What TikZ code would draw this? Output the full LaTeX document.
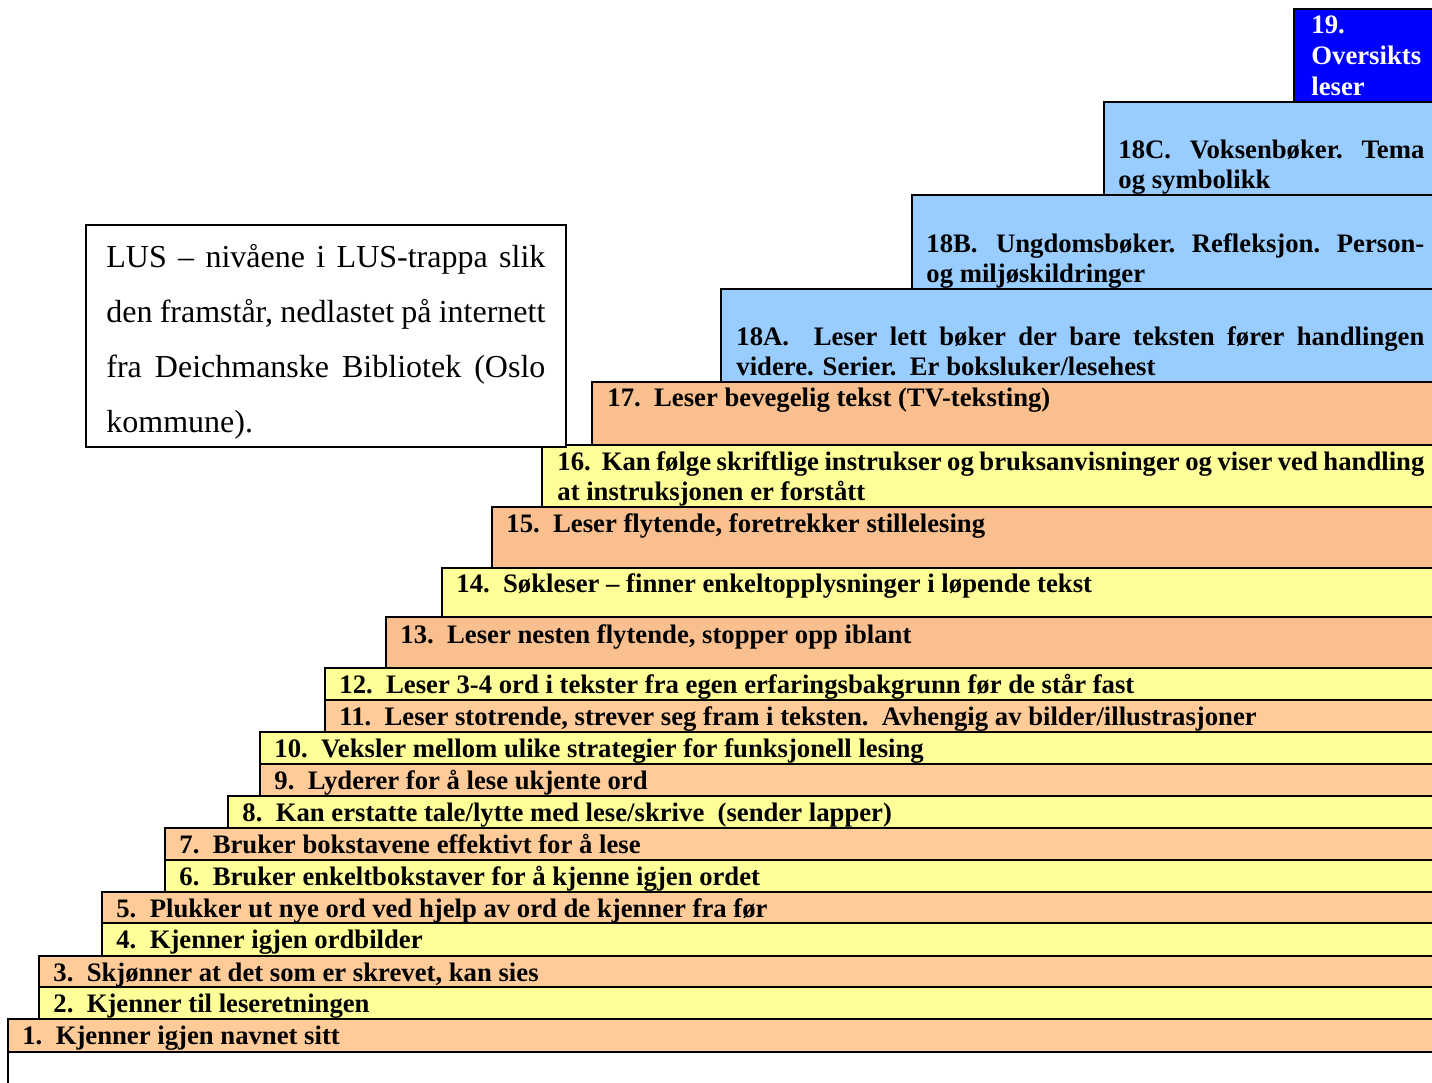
\documentclass[tikz,border=0pt]{standalone}
\usepackage{fontspec}
\setmainfont{Liberation Serif}
\definecolor{peach}{HTML}{FFCC99}
\definecolor{peachdark}{HTML}{F9BF8F}
\definecolor{lightyellow}{HTML}{FFFF99}
\definecolor{skyblue}{HTML}{99CCFF}
\definecolor{deepblue}{HTML}{0000FF}
\tikzset{
  stepbox/.style={draw=black, line width=1pt},
  steptext/.style={anchor=base west, inner sep=0pt, font=\bfseries\fontsize{13.35}{15}\selectfont},
  captext/.style={anchor=base west, inner sep=0pt, font=\fontsize{16}{20}\selectfont},
}
\begin{document}
\begin{tikzpicture}[x=0.5pt,y=-0.5pt]
\useasboundingbox (0,0) rectangle (1432,1083);
\clip (0,0) rectangle (1432,1083);
\fill[white] (0,0) rectangle (1432,1083);
% stair boxes
\path[stepbox, fill=deepblue]   (1294,9)   rectangle (1460,102);
\path[stepbox, fill=skyblue]    (1104,102) rectangle (1460,195);
\path[stepbox, fill=skyblue]    (912,195)  rectangle (1460,289);
\path[stepbox, fill=skyblue]    (721,289)  rectangle (1460,382);
\path[stepbox, fill=peachdark]  (592,382)  rectangle (1460,445);
\path[stepbox, fill=lightyellow](542,445)  rectangle (1460,507);
\path[stepbox, fill=peachdark]  (492,507)  rectangle (1460,568);
\path[stepbox, fill=lightyellow](442,568)  rectangle (1460,617);
\path[stepbox, fill=peachdark]  (386,617)  rectangle (1460,668);
\path[stepbox, fill=lightyellow](325,668)  rectangle (1460,700);
\path[stepbox, fill=peach]      (325,700)  rectangle (1460,732);
\path[stepbox, fill=lightyellow](260,732)  rectangle (1460,764);
\path[stepbox, fill=peach]      (260,764)  rectangle (1460,796);
\path[stepbox, fill=lightyellow](228,796)  rectangle (1460,828);
\path[stepbox, fill=peach]      (165,828)  rectangle (1460,860);
\path[stepbox, fill=lightyellow](165,860)  rectangle (1460,892);
\path[stepbox, fill=peach]      (102,892)  rectangle (1460,923);
\path[stepbox, fill=lightyellow](102,923)  rectangle (1460,956);
\path[stepbox, fill=peach]      (39,956)   rectangle (1460,987);
\path[stepbox, fill=lightyellow](39,987)   rectangle (1460,1019);
\path[stepbox, fill=peach]      (8,1019)   rectangle (1460,1052);
\path[stepbox, fill=white]      (8,1052)   rectangle (1460,1110);
% caption box
\path[draw=black, line width=0.9pt, fill=white] (86,225) rectangle (566,447);
\node[captext] (cap1) at (106,267) {\makebox[219.5pt][s]{LUS – nivåene i LUS-trappa slik}};
\node[captext] (cap2) at (106,322) {\makebox[219.5pt][s]{den framstår, nedlastet på internett}};
\node[captext] (cap3) at (106,377) {\makebox[219.5pt][s]{fra Deichmanske Bibliotek (Oslo}};
\node[captext] (cap4) at (106,432) {kommune).};
% step texts
\node[steptext, text=white] (t19a) at (1311,33) {19.};
\node[steptext, text=white] (t19b) at (1311,64) {Oversikts};
\node[steptext, text=white] (t19c) at (1311,95) {leser};
\node[steptext] (t18Ca) at (1118,158) {\makebox[153pt][s]{18C.\ \ Voksenbøker.\ \ Tema}};
\node[steptext] (t18Cb) at (1118,188) {og symbolikk};
\node[steptext] (t18Ba) at (926,252) {\makebox[249pt][s]{18B.\ \ Ungdomsbøker. Refleksjon. Person-}};
\node[steptext] (t18Bb) at (926,282) {og miljøskildringer};
\node[steptext] (t18Aa) at (736,345) {\makebox[344pt][s]{18A.\ \ Leser lett bøker der bare teksten fører handlingen}};
\node[steptext] (t18Ab) at (736,375) {videre. Serier.\ \ Er boksluker/lesehest};
\node[steptext] (t17) at (607,406) {17.\ \ Leser bevegelig tekst (TV-teksting)};
\node[steptext] (t16a) at (557,470) {\makebox[433.5pt][s]{16.\ \ Kan følge skriftlige instrukser og bruksanvisninger og viser ved handling}};
\node[steptext] (t16b) at (557,500) {at instruksjonen er forstått};
\node[steptext] (t15) at (506,532) {15.\ \ Leser flytende, foretrekker stillelesing};
\node[steptext] (t14) at (456,592) {14.\ \ Søkleser – finner enkeltopplysninger i løpende tekst};
\node[steptext] (t13) at (400,643) {13.\ \ Leser nesten flytende, stopper opp iblant};
\node[steptext] (t12) at (339,693) {12.\ \ Leser 3-4 ord i tekster fra egen erfaringsbakgrunn før de står fast};
\node[steptext] (t11) at (339,725) {11.\ \ Leser stotrende, strever seg fram i teksten.\ \ Avhengig av bilder/illustrasjoner};
\node[steptext] (t10) at (274,757) {10.\ \ Veksler mellom ulike strategier for funksjonell lesing};
\node[steptext] (t9) at (274,789) {9.\ \ Lyderer for å lese ukjente ord};
\node[steptext] (t8) at (242,821) {8.\ \ Kan erstatte tale/lytte med lese/skrive\ \ (sender lapper)};
\node[steptext] (t7) at (179,853) {7.\ \ Bruker bokstavene effektivt for å lese};
\node[steptext] (t6) at (179,885) {6.\ \ Bruker enkeltbokstaver for å kjenne igjen ordet};
\node[steptext] (t5) at (116,917) {5.\ \ Plukker ut nye ord ved hjelp av ord de kjenner fra før};
\node[steptext] (t4) at (116,948) {4.\ \ Kjenner igjen ordbilder};
\node[steptext] (t3) at (53,981) {3.\ \ Skjønner at det som er skrevet, kan sies};
\node[steptext] (t2) at (53,1012) {2.\ \ Kjenner til leseretningen};
\node[steptext] (t1) at (22,1044) {1.\ \ Kjenner igjen navnet sitt};
\end{tikzpicture}
\end{document}
